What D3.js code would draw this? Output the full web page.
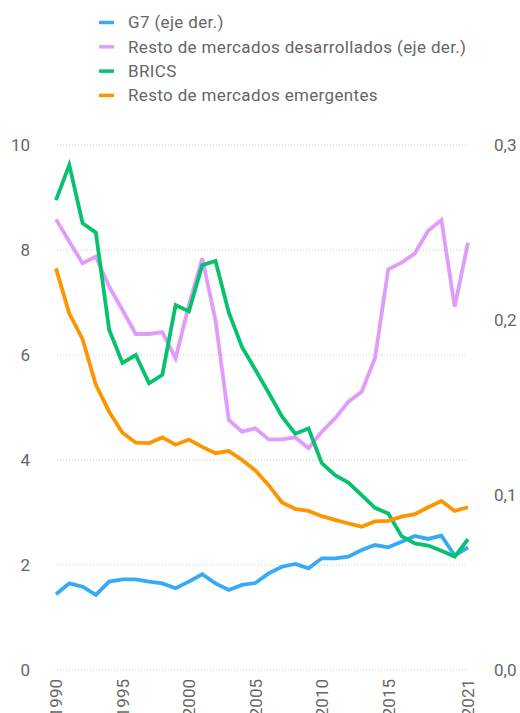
<!DOCTYPE html>
<html>
<head>
<meta charset="utf-8">
<script src="https://cdn.jsdelivr.net/npm/d3@7"></script>
<style>
  body { margin: 0; background: #fff; }
  svg text { font-family: Roboto, "Noto Sans", sans-serif; fill: #666; }
</style>
</head>
<body>
<div id="chart"></div>
<script>
const years = d3.range(1990, 2022);

// left axis
const brics = [8.95, 9.62, 8.51, 8.33, 6.48, 5.85, 6.0, 5.46, 5.62, 6.95, 6.83, 7.71, 7.79, 6.81, 6.15, 5.72,
  5.28, 4.83, 4.50, 4.60, 3.94, 3.71, 3.57, 3.33, 3.09, 2.98, 2.55, 2.41, 2.37, 2.27, 2.16, 2.49];
const restoEmergentes = [7.65, 6.79, 6.30, 5.43, 4.92, 4.52, 4.33, 4.32, 4.43, 4.29, 4.39, 4.25, 4.13, 4.17, 4.0, 3.80,
  3.52, 3.19, 3.07, 3.03, 2.93, 2.86, 2.79, 2.73, 2.83, 2.84, 2.92, 2.97, 3.10, 3.22, 3.03, 3.10];

// right axis
const g7 = [0.0433, 0.0495, 0.0476, 0.0429, 0.0505, 0.0518, 0.0518, 0.0505, 0.0495, 0.0467, 0.0505, 0.0547, 0.0495, 0.0457, 0.0486, 0.0497,
  0.0552, 0.0590, 0.0606, 0.0581, 0.0638, 0.0638, 0.0648, 0.0686, 0.0714, 0.0701, 0.0733, 0.0766, 0.0749, 0.0768, 0.0653, 0.0701];
const restoDesarrollados = [0.2575, 0.2448, 0.2324, 0.2362, 0.2190, 0.2057, 0.1920, 0.1920, 0.1931, 0.1781, 0.2086, 0.2352, 0.2000, 0.1429, 0.1362, 0.1381,
  0.1318, 0.1318, 0.1330, 0.1267, 0.1362, 0.1438, 0.1533, 0.1590, 0.1781, 0.2290, 0.2328, 0.2381, 0.2510, 0.2571, 0.2076, 0.2442];

const leftTicks = [0, 2, 4, 6, 8, 10];
const rightTicks = [0, 0.1, 0.2, 0.3];
const yearTicks = [1990, 1995, 2000, 2005, 2010, 2015, 2021];

const series = [
  { name: "G7 (eje der.)", values: g7, axis: "right", color: "#36aaf8" },
  { name: "Resto de mercados desarrollados (eje der.)", values: restoDesarrollados, axis: "right", color: "#df9cfb" },
  { name: "BRICS", values: brics, axis: "left", color: "#06c16d" },
  { name: "Resto de mercados emergentes", values: restoEmergentes, axis: "left", color: "#fd9500" }
];

const width = 520, height = 713;
const svg = d3.select("#chart").append("svg")
  .attr("width", width)
  .attr("height", height);

const x = d3.scaleLinear().domain([1990, 2021]).range([56, 468]);
const yL = d3.scaleLinear().domain([0, 10]).range([670, 145]);
const yR = d3.scaleLinear().domain([0, 0.3]).range([670, 145]);

// gridlines
svg.append("g")
  .selectAll("line")
  .data(leftTicks)
  .join("line")
  .attr("x1", 57).attr("x2", 467)
  .attr("y1", d => yL(d)).attr("y2", d => yL(d))
  .attr("stroke", "#c8c8c8")
  .attr("stroke-width", 1)
  .attr("stroke-dasharray", "1,2");

// left axis
const leftAxis = svg.append("g")
  .attr("transform", "translate(30,0)")
  .call(d3.axisLeft(yL).tickValues(leftTicks).tickSize(0).tickPadding(0).tickFormat(d3.format("d")));
leftAxis.select(".domain").remove();

// right axis
const fmtR = d => d3.format(".1f")(d).replace(".", ",");
const rightAxis = svg.append("g")
  .attr("transform", "translate(494,0)")
  .call(d3.axisRight(yR).tickValues(rightTicks).tickSize(0).tickPadding(0).tickFormat(fmtR));
rightAxis.select(".domain").remove();

// bottom axis (labels run past the bottom edge, as in the original)
const bottomAxis = svg.append("g")
  .attr("transform", "translate(0,679)")
  .call(d3.axisBottom(x).tickValues(yearTicks).tickSize(0).tickPadding(0).tickFormat(d3.format("d")));
bottomAxis.select(".domain").remove();
bottomAxis.selectAll("text")
  .attr("transform", "rotate(-90)")
  .attr("text-anchor", "end")
  .attr("x", 0)
  .attr("y", 0)
  .attr("dy", "0.35em");

svg.selectAll(".tick text").style("font-size", "17px").attr("fill", "#666");

// lines
const line = (scale) => d3.line()
  .x((d, i) => x(years[i]))
  .y(d => scale(d));

svg.append("g")
  .selectAll("path")
  .data(series)
  .join("path")
  .attr("fill", "none")
  .attr("stroke", d => d.color)
  .attr("stroke-width", 3.8)
  .attr("stroke-linejoin", "miter")
  .attr("d", d => line(d.axis === "left" ? yL : yR)(d.values));

// legend
const legend = svg.append("g")
  .selectAll("g")
  .data(series)
  .join("g")
  .attr("transform", (d, i) => `translate(0,${22.5 + i * 24.3})`);

legend.append("line")
  .attr("x1", 99).attr("x2", 114)
  .attr("stroke", d => d.color)
  .attr("stroke-width", 3.5);

legend.append("text")
  .attr("x", 128)
  .attr("dy", "0.35em")
  .style("font-size", "17px")
  .style("letter-spacing", "0.35px")
  .text(d => d.name);
</script>
</body>
</html>
